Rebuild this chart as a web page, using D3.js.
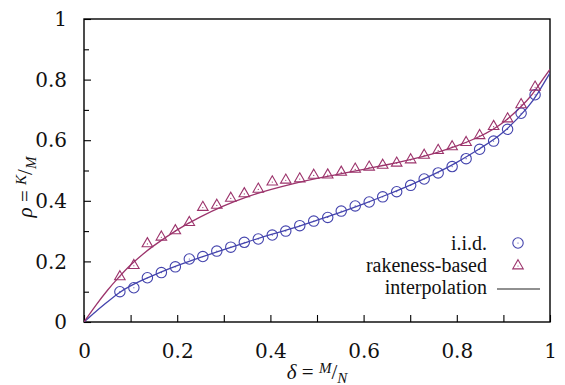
<!DOCTYPE html>
<html><head><meta charset="utf-8">
<script src="https://cdn.jsdelivr.net/npm/d3@7"></script>
<style>
body{margin:0;background:#fff;}
</style></head>
<body><svg id="c" width="565" height="385"></svg>
<script>
// ---- data ----
const delta = [0.077,0.107,0.136,0.166,0.196,0.226,0.255,0.285,0.315,0.344,0.374,0.404,0.433,0.463,0.493,0.523,0.552,0.582,0.612,0.641,0.671,0.701,0.730,0.760,0.790,0.820,0.849,0.879,0.909,0.938,0.968];
const iid = [0.100,0.113,0.146,0.163,0.182,0.208,0.216,0.234,0.247,0.263,0.274,0.287,0.300,0.318,0.333,0.345,0.366,0.383,0.396,0.413,0.430,0.451,0.472,0.492,0.513,0.539,0.570,0.597,0.636,0.689,0.750];
const rakeness = [0.152,0.189,0.261,0.283,0.304,0.331,0.381,0.388,0.411,0.426,0.441,0.465,0.471,0.475,0.487,0.488,0.497,0.507,0.514,0.520,0.527,0.538,0.553,0.569,0.581,0.595,0.618,0.648,0.673,0.720,0.778];
const interpX = [0,0.025,0.05,0.075,0.1,0.125,0.15,0.2,0.25,0.3,0.35,0.4,0.45,0.5,0.55,0.6,0.65,0.7,0.75,0.8,0.85,0.9,0.95,0.975,1];
const interpIid = [0,0.034,0.066,0.096,0.119,0.138,0.155,0.186,0.213,0.239,0.264,0.288,0.311,0.336,0.362,0.390,0.420,0.452,0.487,0.527,0.573,0.627,0.705,0.758,0.822];
const interpRak = [0,0.054,0.104,0.148,0.188,0.222,0.252,0.304,0.347,0.383,0.413,0.437,0.457,0.474,0.489,0.504,0.519,0.536,0.556,0.581,0.613,0.659,0.730,0.780,0.834];
const xTickVals = [0,0.1,0.2,0.3,0.4,0.5,0.6,0.7,0.8,0.9,1];
const yTickVals = [0,0.1,0.2,0.3,0.4,0.5,0.6,0.7,0.8,0.9,1];
const legendLabels = ["i.i.d.","rakeness-based","interpolation"];

const F1 = "DejaVu Serif", F2 = "Liberation Serif", F3 = "Times New Roman";
const blue = "#4444ad", mag = "#9c346c";
const svg = d3.select("#c");
const L=84, R=550, T=19, B=322;
const x = d3.scaleLinear().domain([0,1]).range([L,R]);
const y = d3.scaleLinear().domain([0,1]).range([B,T]);
const isMajor = v => Math.abs(Math.round(v*10) % 2) === 0;
const fmt = v => isMajor(v) ? d3.format("~g")(v) : "";

// x axis
const gx = svg.append("g").attr("transform",`translate(0,${B})`)
  .call(d3.axisBottom(x).tickValues(xTickVals).tickSizeInner(-7).tickSizeOuter(0).tickPadding(28).tickFormat(fmt));
gx.attr("font-family",null);
gx.select(".domain").remove();
gx.selectAll("line").attr("stroke","#000").attr("stroke-width",1.1);
gx.selectAll("text").style("font-family",F1).attr("font-size",20).attr("fill","#111").attr("dy","0em").attr("y",36);

// y axis
const gy = svg.append("g").attr("transform",`translate(${L},0)`)
  .call(d3.axisLeft(y).tickValues(yTickVals).tickSizeInner(-7).tickSizeOuter(0).tickPadding(18).tickFormat(fmt));
gy.attr("font-family",null);
gy.select(".domain").remove();
gy.selectAll(".tick line").attr("stroke","#000").attr("stroke-width",1.1)
  .attr("x2", d => isMajor(d) ? 7 : 5);
gy.selectAll("text").style("font-family",F1).attr("font-size",20).attr("fill","#111").attr("x",-17).attr("dy","0.33em");

// frame
svg.append("rect").attr("x",L).attr("y",T).attr("width",R-L).attr("height",B-T)
  .attr("fill","none").attr("stroke","#000").attr("stroke-width",1.4);

// curves
svg.append("clipPath").attr("id","pc").append("rect").attr("x",L).attr("y",T).attr("width",R-L).attr("height",B-T);
const line = d3.line().curve(d3.curveNatural).x(d=>x(d[0])).y(d=>y(d[1]));
svg.append("path").datum(interpX.map((v,i)=>[v,interpIid[i]])).attr("d",line)
  .attr("fill","none").attr("stroke",blue).attr("stroke-width",1.3).attr("clip-path","url(#pc)");
svg.append("path").datum(interpX.map((v,i)=>[v,interpRak[i]])).attr("d",line)
  .attr("fill","none").attr("stroke",mag).attr("stroke-width",1.3).attr("clip-path","url(#pc)");

// markers
const tri = d3.symbol().type(d3.symbolTriangle).size(48);
function circ(g,cx,cy){
  g.append("circle").attr("cx",cx).attr("cy",cy).attr("r",5.2).attr("fill","none").attr("stroke",blue).attr("stroke-width",1.1);
  g.append("circle").attr("cx",cx).attr("cy",cy).attr("r",0.6).attr("fill",blue);
}
function trig(g,cx,cy){
  g.append("path").attr("d",tri()).attr("transform",`translate(${cx},${cy+0.8})`)
   .attr("fill","none").attr("stroke",mag).attr("stroke-width",1.1);
  g.append("circle").attr("cx",cx).attr("cy",cy+1).attr("r",0.6).attr("fill",mag);
}
const gm = svg.append("g");
delta.forEach((d,i)=>circ(gm,x(d),y(iid[i])));
delta.forEach((d,i)=>trig(gm,x(d),y(rakeness[i])));

// legend
const lg = svg.append("g");
const ly = [243, 265, 287];
legendLabels.forEach((t,i)=>{
  lg.append("text").attr("x",487).attr("y",ly[i]).attr("dy","0.33em").attr("text-anchor","end")
    .style("font-family",F2).attr("font-size",20).attr("fill","#111").text(t);
});
circ(lg,518,ly[0]);
trig(lg,518,ly[1]);
lg.append("line").attr("x1",497).attr("x2",540).attr("y1",ly[2]+2).attr("y2",ly[2]+2).attr("stroke","#222").attr("stroke-width",1.2);

// axis titles
const xt = svg.append("text").attr("x",317).attr("y",379).attr("text-anchor","middle").style("font-family",F3).attr("font-size",21).attr("fill","#111");
xt.append("tspan").attr("font-style","italic").text("δ");
xt.append("tspan").text(" = ");
xt.append("tspan").attr("font-style","italic").attr("font-size",15).attr("dy",-6).text("M");
xt.append("tspan").attr("dy",6).text("/");
xt.append("tspan").attr("font-style","italic").attr("font-size",15).attr("dy",4).text("N");

const yt = svg.append("text").attr("transform","translate(32,187) rotate(-90)").attr("text-anchor","middle").style("font-family",F3).attr("font-size",21).attr("fill","#111");
yt.append("tspan").attr("font-style","italic").text("ρ");
yt.append("tspan").text(" = ");
yt.append("tspan").attr("font-style","italic").attr("font-size",15).attr("dy",-6).text("K");
yt.append("tspan").attr("dy",6).text("/");
yt.append("tspan").attr("font-style","italic").attr("font-size",15).attr("dy",4).text("M");
</script></body></html>
